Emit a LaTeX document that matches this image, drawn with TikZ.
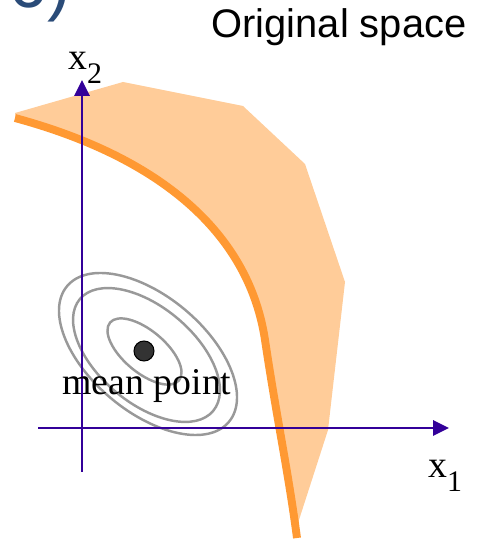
\documentclass[tikz,border=0pt]{standalone}
\usepackage{fontspec}
\setmainfont{Liberation Serif}
\newfontfamily\arialfont{Liberation Sans}
\usetikzlibrary{arrows.meta}
\definecolor{axiscol}{RGB}{51,0,153}
\definecolor{bandfill}{RGB}{255,204,153}
\definecolor{bandline}{RGB}{255,153,51}
\definecolor{ringcol}{RGB}{153,153,153}
\definecolor{dotcol}{RGB}{51,51,51}
\definecolor{titlecol}{RGB}{42,75,120}
\newcommand{\axlab}[1]{x\raisebox{-7.5pt}{\fontsize{17}{17}\selectfont #1}}
\tikzset{
  axis/.style={draw=axiscol,line width=1.7pt,-{Triangle[length=9pt,width=8.5pt]}},
  ring/.style={draw=ringcol,line width=1.4pt},
  lbl/.style={inner sep=0pt,font=\fontsize{21.5}{22}\selectfont},
  edge/.style={draw=bandline,line width=4.5pt},
}

\begin{document}
\begin{tikzpicture}[x=0.02cm,y=0.02cm]
\useasboundingbox (0,0) rectangle (479,541);
\clip (0,0) rectangle (479,541);
% cut-off slide title
\node[anchor=base east,inner sep=0pt,text=titlecol,font=\arialfont\fontsize{40}{40}\selectfont] (ttl) at (71,533) {(1/6)};
\node[anchor=base,inner sep=0pt,font=\arialfont\fontsize{22.7}{24}\selectfont] (space) at (339,503) {Original space};
% band
\fill[bandfill] (15,423) .. controls (170,381) and (250,301) .. (265,201) .. controls (277,121) and (288,71) .. (297,3)
  -- (298,18) -- (328,111) -- (345,259) -- (305,377) -- (243,435) -- (123,459) -- (15,428) -- cycle;
\draw[edge] (15,423) .. controls (170,381) and (250,301) .. (265,201) .. controls (277,121) and (288,71) .. (297,3);
% contours
\draw[ring] (144.5,189.5) ellipse[x radius=45,y radius=21,rotate=-40];
\draw[ring] (146.5,186) ellipse[x radius=87,y radius=48,rotate=-40];
\draw[ring] (148,187) ellipse[x radius=105.6,y radius=57.7,rotate=-40];
% axes
\coordinate (yb) at (82,69); \coordinate (yt) at (82,461);
\coordinate (xl) at (38,113); \coordinate (xr) at (449,113);
\draw[axis] (yb) -- (yt);
\draw[axis] (xl) -- (xr);
\node[lbl,anchor=base west] (x2) at (68,471) {\axlab{2}};
\node[lbl,anchor=base west] (x1) at (428,63) {\axlab{1}};
\node[circle,fill=dotcol,draw=black,line width=0.6pt,minimum size=0.4cm,inner sep=0pt] (mean) at (144,190) {};
\node[lbl,anchor=base] (mlbl) at (147,146) {mean point};
\end{tikzpicture}
\end{document}
